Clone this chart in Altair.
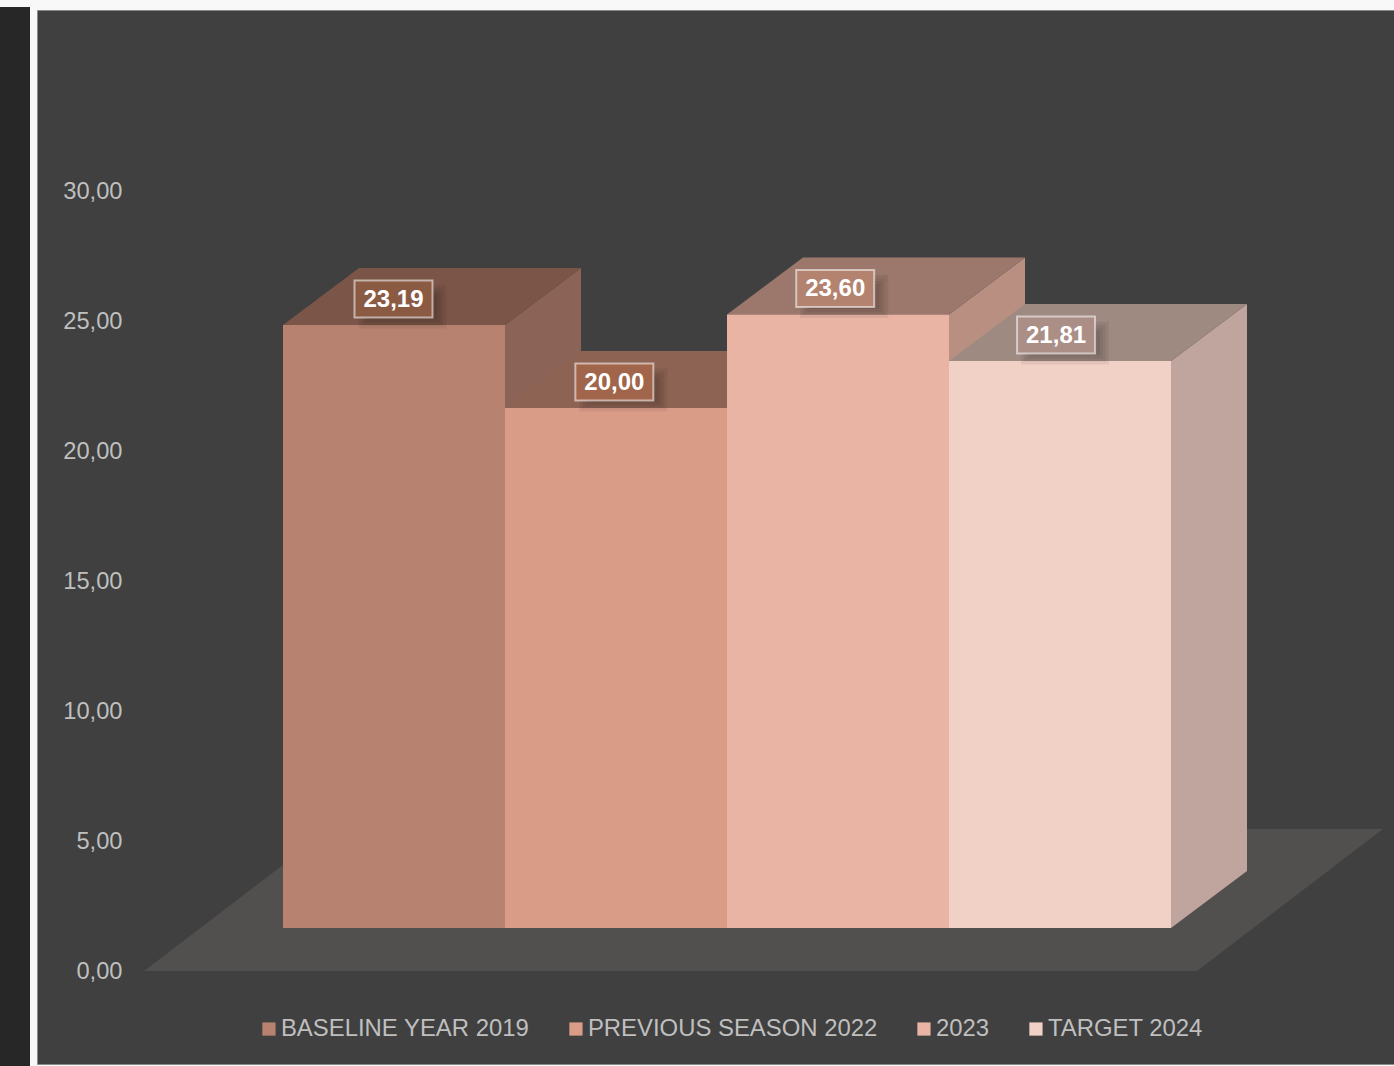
import altair as alt
import pandas as pd

# ---- data ----
categories = ["BASELINE YEAR 2019", "PREVIOUS SEASON 2022", "2023", "TARGET 2024"]
values = [23.19, 20.00, 23.60, 21.81]
tick_values = [0, 5, 10, 15, 20, 25, 30]

# ---- styles ----
front_colors = ["#b7826f", "#d99c87", "#e9b4a3", "#f1d0c6"]
top_colors = ["#7b5648", "#8d6353", "#9b786b", "#9f8a82"]
side_colors = ["#8b6457", "#a07565", "#b88f81", "#bfa59d"]
box_colors = ["#8a5a42", "#a0654a", "#b38370", "#ab8f87"]
floor_color = "#524f4f"
text_gray = "#bfbfbf"
FONT = "Liberation Sans"

# ---- layout (pixels) ----
W, H = 1357, 1054          # plot area
UX, X0 = 222.0, 246.0      # px per bar, px of first bar's left edge
UY, Y0 = 26.0, 961.0       # px per unit, px of value 0 (from top)
DDX, DDY = 76.0, 57.0      # 3D depth shift of bars
BASE = 43.0                # bar front baseline above floor front edge
FLOOR_L, FLOOR_R = 107.0, 1160.0
FDX, FDY = 186.0, 142.0    # floor depth
BOX_W, BOX_H = 78.0, 37.0

xdom = [-X0 / UX, (W - X0) / UX]
ydom = [-(H - Y0) / UY, Y0 / UY]
xs = alt.Scale(domain=xdom, nice=False, zero=False)
ys = alt.Scale(domain=ydom, nice=False, zero=False)

b = BASE / UY
ddx = DDX / UX
ddy = DDY / UY

fronts, sides, tops, labels, shadows = [], [], [], [], []
for i, (c, v) in enumerate(zip(categories, values)):
    fronts.append(dict(series=c, x=i, x2=i + 1, y=b, y2=b + v))
    sides.append(dict(bar=i, col=side_colors[i], x=i + 1, y=b, y2=b + v))
    sides.append(dict(bar=i, col=side_colors[i], x=i + 1 + ddx, y=b + ddy, y2=b + v + ddy))
    tops.append(dict(bar=i, col=top_colors[i], y=b + v, x=i, x2=i + 1))
    tops.append(dict(bar=i, col=top_colors[i], y=b + v + ddy, x=i + ddx, x2=i + 1 + ddx))
    xc = i + 0.5 - (0.5 + 1.15 * i) / UX
    yc = b + v + ddy / 2 - 2.5 / UY
    labels.append(dict(
        bar=i, col=box_colors[i], xc=xc, yc=yc,
        bx=xc - BOX_W / 2 / UX, bx2=xc + BOX_W / 2 / UX,
        by=yc - BOX_H / 2 / UY, by2=yc + BOX_H / 2 / UY,
        txt=f"{v:.2f}".replace(".", ","),
    ))
    # soft shadow: a few stacked translucent rects
    for e in (0.0, 3.0, 6.0, 9.0):
        sxc = xc + 9.0 / UX
        syc = yc - 8.0 / UY
        shadows.append(dict(
            sx=sxc - (BOX_W / 2 - 4 + e) / UX, sx2=sxc + (BOX_W / 2 - 4 + e) / UX,
            sy=syc - (BOX_H / 2 - 6 + e) / UY, sy2=syc + (BOX_H / 2 - 6 + e) / UY,
        ))

fronts = pd.DataFrame(fronts)
sides = pd.DataFrame(sides)
tops = pd.DataFrame(tops)
labels = pd.DataFrame(labels)
shadows = pd.DataFrame(shadows)

fl = (FLOOR_L - X0) / UX
fr = (FLOOR_R - X0) / UX
floor = pd.DataFrame([
    dict(y=0.0, x=fl, x2=fr),
    dict(y=FDY / UY, x=fl + FDX / UX, x2=fr + FDX / UX),
])

yaxis = alt.Axis(
    values=tick_values,
    labelExpr="replace(format(datum.value, '.2f'), '.', ',')",
    domain=False, ticks=False, tickSize=0, grid=False,
    labelFontSize=23.7, labelColor=text_gray, labelFont=FONT,
    labelPadding=8, offset=-93, title=None,
)

strip = alt.Chart(pd.DataFrame({"k": [0]})).mark_rect(color="#272727").encode(
    x=alt.value(-37), x2=alt.value(-7), y=alt.value(-3), y2=alt.value(1056)
)

floor_layer = alt.Chart(floor).mark_area(orient="horizontal", color=floor_color).encode(
    y=alt.Y("y:Q", scale=ys, axis=yaxis),
    x=alt.X("x:Q", scale=xs, axis=None),
    x2="x2:Q",
)

side_layer = alt.Chart(sides).mark_area(orient="vertical").encode(
    x=alt.X("x:Q", scale=xs, axis=None),
    y=alt.Y("y:Q", scale=ys, axis=yaxis),
    y2="y2:Q",
    detail="bar:N",
    fill=alt.Fill("col:N", scale=None),
)

top_layer = alt.Chart(tops).mark_area(orient="horizontal").encode(
    y=alt.Y("y:Q", scale=ys, axis=yaxis),
    x=alt.X("x:Q", scale=xs, axis=None),
    x2="x2:Q",
    detail="bar:N",
    fill=alt.Fill("col:N", scale=None),
)

front_layer = alt.Chart(fronts).mark_rect().encode(
    x=alt.X("x:Q", scale=xs, axis=None),
    x2="x2:Q",
    y=alt.Y("y:Q", scale=ys, axis=yaxis),
    y2="y2:Q",
    color=alt.Color(
        "series:N",
        scale=alt.Scale(domain=categories, range=front_colors),
        legend=alt.Legend(
            orient="none", legendX=220, legendY=1007, direction="horizontal",
            columns=4, title=None, symbolType="square", symbolSize=175,
            symbolStrokeWidth=0, symbolOpacity=1, labelFontSize=23.9,
            labelColor=text_gray, labelFont=FONT, labelOffset=0,
            columnPadding=34, padding=0, labelLimit=0,
        ),
        sort=categories,
    ),
)

shadow_layer = alt.Chart(shadows).mark_rect(color="black", opacity=0.06).encode(
    x=alt.X("sx:Q", scale=xs, axis=None),
    x2="sx2:Q",
    y=alt.Y("sy:Q", scale=ys, axis=yaxis),
    y2="sy2:Q",
)

box_layer = alt.Chart(labels).mark_rect(
    stroke="#ffffff", strokeOpacity=0.55, strokeWidth=2
).encode(
    x=alt.X("bx:Q", scale=xs, axis=None),
    x2="bx2:Q",
    y=alt.Y("by:Q", scale=ys, axis=yaxis),
    y2="by2:Q",
    fill=alt.Fill("col:N", scale=None),
)

text_layer = alt.Chart(labels).mark_text(
    font=FONT, fontSize=24, fontWeight="bold", color="white",
    align="center", baseline="middle", dy=1,
).encode(
    x=alt.X("xc:Q", scale=xs, axis=None),
    y=alt.Y("yc:Q", scale=ys, axis=yaxis),
    text="txt:N",
)

chart = alt.layer(
    strip, floor_layer, side_layer, top_layer, front_layer,
    shadow_layer, box_layer, text_layer,
).properties(
    width=W, height=H,
    autosize=alt.AutoSizeParams(type="none"),
    padding={"left": 37, "top": 10, "right": 0, "bottom": 2},
    background="#f8f8f8",
).configure_view(
    fill="#404040", stroke="#8a8a8a", strokeWidth=1,
)

chart.save("out.html", embed_options={"renderer": "svg", "actions": False})
